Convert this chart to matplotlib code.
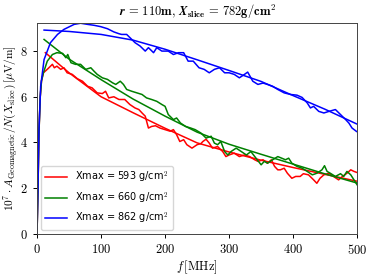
import matplotlib
matplotlib.use("Agg")
import matplotlib.pyplot as plt

plt.rcParams['mathtext.fontset'] = 'cm'
plt.rcParams['font.family'] = 'serif'
plt.rcParams['font.serif'] = ['cmr10', 'DejaVu Serif']
plt.rcParams['axes.formatter.use_mathtext'] = True

labels = ["Xmax = 593 g/cm$^2$", "Xmax = 660 g/cm$^2$", "Xmax = 862 g/cm$^2$"]
colors = ["red", "green", "blue"]

red_f = [0, 1.5, 3, 5, 7, 10, 16, 24, 27, 31, 37, 42, 47, 55, 63, 71, 79, 86, 94, 102, 107, 112, 120, 128, 137, 145, 153, 159, 164, 169, 174, 179, 185, 192, 200, 208, 213, 218, 223, 229, 234, 242, 250, 256, 259, 264, 269, 274, 282, 290, 295, 300, 308, 316, 324, 332, 340, 345, 353, 360, 366, 371, 376, 380, 386, 391, 398, 404, 411, 416, 424, 432, 437, 442, 448, 456, 463, 471, 477, 484, 490, 495, 500]
red_v = [0, 2.0, 4.4, 6.0, 6.7, 7.05, 7.2, 7.42, 7.27, 7.34, 7.2, 7.27, 7.05, 6.98, 6.79, 6.68, 6.46, 6.39, 6.17, 6.14, 6.24, 5.95, 6.0, 5.88, 5.88, 5.66, 5.51, 5.44, 5.29, 5.15, 4.63, 4.7, 4.73, 4.63, 4.56, 4.49, 4.56, 4.34, 4.04, 4.12, 3.9, 3.75, 3.9, 3.95, 4.04, 4.14, 3.97, 3.75, 3.82, 3.6, 3.38, 3.45, 3.53, 3.38, 3.45, 3.38, 3.24, 3.17, 3.24, 3.09, 3.24, 2.95, 2.8, 2.8, 2.87, 2.65, 2.43, 2.51, 2.51, 2.63, 2.58, 2.36, 2.21, 2.43, 2.58, 2.65, 2.51, 2.36, 2.51, 2.65, 2.8, 2.73, 2.68]

green_f = [0, 1.5, 3, 5, 7, 10, 16, 24, 31, 40, 45, 48, 53, 60, 68, 76, 84, 89, 94, 102, 110, 118, 123, 130, 135, 140, 148, 156, 164, 171, 179, 187, 195, 200, 205, 213, 218, 224, 232, 240, 247, 256, 264, 272, 277, 282, 287, 293, 298, 303, 311, 319, 327, 334, 342, 350, 355, 360, 368, 376, 383, 388, 393, 398, 406, 414, 422, 430, 437, 445, 449, 453, 458, 466, 474, 479, 484, 490, 495, 500]
green_v = [0, 2.0, 4.4, 6.0, 6.7, 7.05, 7.56, 7.85, 7.93, 7.9, 7.71, 7.85, 7.49, 7.42, 7.42, 7.2, 7.27, 7.12, 6.98, 6.83, 6.76, 6.61, 6.54, 6.68, 6.54, 6.32, 6.24, 6.17, 6.1, 5.95, 5.88, 5.8, 5.66, 5.58, 5.22, 5.0, 5.07, 4.85, 4.7, 4.63, 4.56, 4.41, 4.19, 4.27, 3.97, 3.9, 4.04, 3.6, 3.45, 3.6, 3.75, 3.6, 3.45, 3.6, 3.31, 3.02, 3.17, 3.09, 3.24, 3.38, 3.3, 3.24, 3.31, 3.09, 2.95, 2.87, 2.73, 2.58, 2.65, 2.8, 2.98, 2.73, 2.65, 2.51, 2.63, 2.51, 2.73, 2.58, 2.36, 2.14]

blue_f = [0, 1.5, 3, 5.7, 11, 21, 32, 42, 58, 68, 79, 89, 99.5, 110, 120, 128, 132, 140, 148, 153, 161, 169, 174, 182, 187, 195, 205, 213, 221, 229, 236, 244, 253, 261, 269, 277, 285, 293, 300, 308, 316, 324, 329, 337, 345, 353, 360, 368, 376, 386, 396, 406, 414, 422, 427, 432, 440, 448, 456, 466, 474, 482, 487, 492, 499]
blue_v = [0, 2.0, 4.55, 6.46, 7.63, 8.37, 8.73, 8.95, 9.17, 9.22, 9.17, 9.13, 9.07, 8.98, 8.84, 8.76, 8.73, 8.73, 8.51, 8.37, 8.22, 8.0, 8.15, 7.93, 8.15, 8.0, 8.0, 7.85, 7.93, 7.93, 7.56, 7.56, 7.27, 7.2, 7.05, 7.2, 7.27, 7.05, 7.05, 6.98, 6.83, 6.98, 7.08, 6.68, 6.54, 6.6, 6.54, 6.46, 6.32, 6.17, 6.1, 6.07, 5.97, 5.73, 5.51, 5.58, 5.36, 5.29, 5.36, 5.44, 5.22, 5.0, 4.85, 4.63, 4.48]

red_fit_f = [13, 50, 100, 150, 200, 250, 300, 350, 400, 450, 500]
red_fit_v = [7.93, 7.05, 6.0, 5.3, 4.62, 3.98, 3.58, 3.22, 2.9, 2.6, 2.3]
green_fit_f = [11, 50, 100, 150, 200, 250, 300, 350, 400, 450, 500]
green_fit_v = [8.51, 7.65, 6.75, 5.9, 5.15, 4.45, 3.92, 3.48, 3.05, 2.62, 2.22]
blue_fit_f = [11, 50, 100, 150, 200, 250, 300, 350, 400, 450, 500]
blue_fit_v = [8.92, 8.86, 8.73, 8.48, 8.08, 7.62, 7.15, 6.67, 6.05, 5.45, 4.8]

sim = [(red_f, red_v), (green_f, green_v), (blue_f, blue_v)]
fits = [(red_fit_f, red_fit_v), (green_fit_f, green_fit_v), (blue_fit_f, blue_fit_v)]

fig = plt.figure(figsize=(3.74, 2.75), dpi=100)
ax = fig.add_axes([0.099, 0.150, 0.856, 0.768])

for (f, v), (ff, fv), c, lab in zip(sim, fits, colors, labels):
    ax.plot(f, v, color=c, lw=1.1, label=lab)
    ax.plot(ff, fv, color=c, lw=1.1)

ax.set_xlim(0, 500)
ax.set_ylim(0, 9.25)
ax.set_xticks([0, 100, 200, 300, 400, 500])
ax.set_yticks([0, 2, 4, 6, 8])
ax.tick_params(labelsize=9, length=3, width=0.7)
for s in ax.spines.values():
    s.set_linewidth(0.7)
    s.set_color('#444444')

ax.set_title(r"$\boldsymbol{r}\,\mathbf{=\,110m,}\,\boldsymbol{X}_{\mathbf{slice}}\,\mathbf{=\,782g/cm^2}$", fontsize=9, pad=5)
ax.set_xlabel(r"$f\,[\mathrm{MHz}]$", fontsize=9, labelpad=1)
ax.set_ylabel(r"$10^7\cdot A_{\mathrm{Geomagnetic}}/N(X_{\mathrm{slice}})\,[\mu\mathrm{V}/\mathrm{m}]$", fontsize=8.2)
ax.yaxis.set_label_coords(-0.054, 0.5)

leg = ax.legend(loc='lower left', prop={'family': 'DejaVu Sans', 'size': 7}, handlelength=2.3,
                borderaxespad=0.4, framealpha=0.8)

fig.savefig("out.png", dpi=100)
